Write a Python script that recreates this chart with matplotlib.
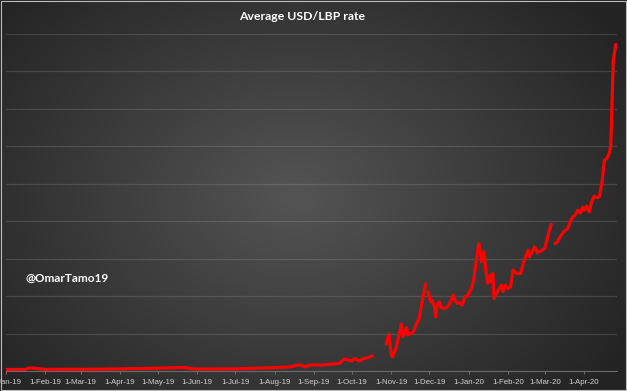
import numpy as np
import pandas as pd
import matplotlib
matplotlib.use("Agg")
import matplotlib.pyplot as plt
import matplotlib.dates as mdates
from matplotlib.patches import Rectangle

# Average USD/LBP rate (None = no quote that day)
dates = [
    "2019-01-01", "2019-01-16", "2019-01-20", "2019-02-01", "2019-03-16",
    "2019-04-22", "2019-05-22", "2019-05-30", "2019-07-01", "2019-07-28",
    "2019-08-13", "2019-08-21", "2019-08-25", "2019-08-29", "2019-09-09",
    "2019-09-21", "2019-09-25", "2019-10-01", "2019-10-03", "2019-10-07",
    "2019-10-09", "2019-10-13", "2019-10-17", "2019-10-22",
    "2019-10-28", "2019-10-30", "2019-11-01", "2019-11-02", "2019-11-05",
    "2019-11-09", "2019-11-10", "2019-11-13", "2019-11-14", "2019-11-16",
    "2019-11-18", "2019-11-21", "2019-11-23", "2019-11-26", "2019-11-28",
    "2019-11-29",
    "2019-11-30", "2019-12-02", "2019-12-03", "2019-12-05", "2019-12-06",
    "2019-12-07", "2019-12-09", "2019-12-10", "2019-12-13", "2019-12-15",
    "2019-12-17", "2019-12-20", "2019-12-21", "2019-12-23", "2019-12-25",
    "2019-12-27", "2019-12-29", "2019-12-31", "2020-01-03", "2020-01-05",
    "2020-01-07", "2020-01-09", "2020-01-10", "2020-01-11", "2020-01-13",
    "2020-01-14", "2020-01-16", "2020-01-18", "2020-01-19", "2020-01-20",
    "2020-01-21", "2020-01-23", "2020-01-25", "2020-01-27", "2020-01-28",
    "2020-01-30", "2020-02-01", "2020-02-03", "2020-02-05", "2020-02-08",
    "2020-02-11", "2020-02-13", "2020-02-15", "2020-02-17", "2020-02-18",
    "2020-02-20", "2020-02-22", "2020-02-24", "2020-02-27", "2020-03-01",
    "2020-03-03", "2020-03-06", "2020-03-07",
    "2020-03-09", "2020-03-11", "2020-03-13", "2020-03-16", "2020-03-19",
    "2020-03-21", "2020-03-23", "2020-03-25", "2020-03-27", "2020-03-29",
    "2020-03-31", "2020-04-01", "2020-04-03", "2020-04-05", "2020-04-07",
    "2020-04-09", "2020-04-11", "2020-04-13", "2020-04-15", "2020-04-17",
    "2020-04-19", "2020-04-21", "2020-04-22", "2020-04-23", "2020-04-24",
    "2020-04-26",
]
rates = [
    1510, 1510, 1521, 1511, 1512,
    1517, 1523, 1513, 1514, 1521,
    1527, 1542, 1527, 1540, 1540,
    1551, 1580, 1567, 1582, 1567,
    1580, 1588, 1600, None,
    1680, 1747, 1607, 1595, 1662,
    1813, 1729, 1791, 1740, 1751,
    1755, 1818, 1851, 1995, 2080,
    None,
    2029, 1962, 1973, 1929, 1862,
    1940, 1962, 1925, 1918, 1925,
    1951, 2007, 1973, 1951, 1955,
    1940, 1995, 2000, 2051, 2107,
    2240, 2351, 2307, 2229, 2295,
    2207, 2084, 2140, 2095, 2151,
    1985, 2018, 2051, 2073, 2029,
    2073, 2051, 2062, 2173, 2151,
    2151, 2218, 2267, 2307, 2262,
    2295, 2329, 2289, 2302, 2318,
    2385, 2480, None,
    2351, 2362, 2395, 2429, 2451,
    2495, 2529, 2540, 2573, 2555,
    2595, 2573, 2600, 2562, 2629,
    2667, 2658, 2662, 2751, 2907,
    2918, 2960, 3000, 3285, 3573,
    3680,
]

title = "Average USD/LBP rate"
handle = "@OmarTamo19"

s = pd.Series([np.nan if v is None else v for v in rates],
              index=pd.to_datetime(dates), dtype=float)

fig = plt.figure(figsize=(6.27, 3.91), dpi=100)

# Background: dark radial gradient over the whole picture
bg = fig.add_axes([0, 0, 1, 1], zorder=0)
yy, xx = np.mgrid[0:1:391j, 0:1:627j]
r = np.sqrt(((xx - 0.47) / 0.62) ** 2 + ((yy - 0.5) / 0.75) ** 2)
shade = np.clip(0.33 - 0.19 * r, 0.14, 0.33)
bg.imshow(np.dstack([shade] * 3), aspect="auto", extent=[0, 1, 0, 1])
bg.set_axis_off()
fig.patches.append(Rectangle((0.0008, 0.0013), 0.9984, 0.9974, transform=fig.transFigure,
                             fill=False, edgecolor="#bcbcbc", linewidth=0.8, zorder=5))

ax = fig.add_axes([0.0092, 0.0512, 0.975, 0.862], zorder=1)
ax.set_facecolor("none")
ax.plot(s.index, s.values, color="#ff0000", linewidth=2.3, solid_capstyle="round")

ax.set_xlim(pd.Timestamp("2019-01-01"), pd.Timestamp("2020-04-27"))
ax.set_ylim(1500, 3750)
ax.set_yticks(np.arange(1500, 3751, 250))
ax.yaxis.set_tick_params(length=0, labelleft=False)
ax.grid(axis="y", color="white", alpha=0.12, linewidth=0.9)
ax.set_axisbelow(True)

ax.xaxis.set_major_locator(mdates.MonthLocator())
ax.xaxis.set_major_formatter(mdates.DateFormatter("1-%b-%y"))
ax.tick_params(axis="x", length=2.5, color="#6a6a6a", labelsize=5.7,
               labelcolor="#d0d0d0", pad=3)
for lab in ax.get_xticklabels():
    lab.set_fontfamily("Liberation Sans")

for side in ["top", "left", "right"]:
    ax.spines[side].set_visible(False)
ax.spines["bottom"].set_color("#6a6a6a")
ax.spines["bottom"].set_linewidth(0.8)

fig.text(302 / 627, 1 - 17 / 391, title, ha="center", va="center", color="white",
         fontsize=8.8, fontweight="bold", family="Lato")
fig.text(25 / 627, 1 - 278 / 391, handle, ha="left", va="center", color="white",
         fontsize=8.5, fontweight="bold", family="Lato")

fig.savefig("out.png", dpi=100)
